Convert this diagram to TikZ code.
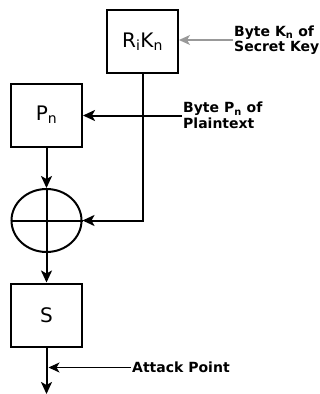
\documentclass[tikz,border=0pt]{standalone}
\usepackage{fontspec}
\setmainfont{DejaVu Sans}
\usetikzlibrary{arrows.meta,shapes.geometric}
\begin{document}
\begin{tikzpicture}[x=1pt, y=-1pt,
    block/.style={rectangle, draw=black, line width=2pt,
      minimum width=71pt, minimum height=63pt, inner sep=0pt,
      font=\fontsize{20}{22}\selectfont},
    xorop/.style={ellipse, draw=black, line width=2pt,
      minimum width=70pt, minimum height=63pt, inner sep=0pt},
    note/.style={align=left, inner sep=1pt, anchor=west,
      font=\fontsize{14}{15.5}\selectfont\bfseries},
    flow/.style={line width=2pt,
      -{Stealth[length=12pt, width=11pt, inset=3pt]}},
    feed/.style={line width=1.2pt,
      -{Stealth[length=11pt, width=10pt, inset=3pt]}}
  ]
    \useasboundingbox (0,0) rectangle (320,394);

    % Blocks
    \node[block] (rk) at (142.5, 41.5) {R\textsubscript{i}K\textsubscript{n}};
    \node[block] (pn) at (46.5, 115) {P\textsubscript{n}};
    \node[xorop] (xor) at (46.5, 220.5) {};
    \node[block] (sbox) at (46.5, 315) {S};
    \draw[line width=2pt] (xor.north) -- (xor.south);
    \draw[line width=2pt] (xor.west) -- (xor.east);

    % Labels
    \node[note] (keyin) at (233, 40) {Byte K\textsubscript{n} of\\Secret Key};
    \node[note] (ptin) at (182, 115.5) {Byte P\textsubscript{n} of\\Plaintext};
    \node[note] (atk) at (131, 367.5) {Attack Point};
    \coordinate (hit) at (48.5, 367.5);
    \coordinate (out) at (46.5, 394);

    % Connections
    \draw[feed, draw=gray!80, fill=gray!80] (keyin.west) -- (keyin.west -| rk.east);
    \draw[flow] (ptin.west) -- (ptin.west -| pn.east);
    \draw[flow] (rk.south) |- (xor.east);
    \draw[flow] (pn.south) -- (xor.north);
    \draw[flow] (xor.south) -- (sbox.north);
    \draw[flow] (sbox.south) -- (out);
    \draw[feed] (atk.west) -- (hit);
  \end{tikzpicture}
\end{document}
